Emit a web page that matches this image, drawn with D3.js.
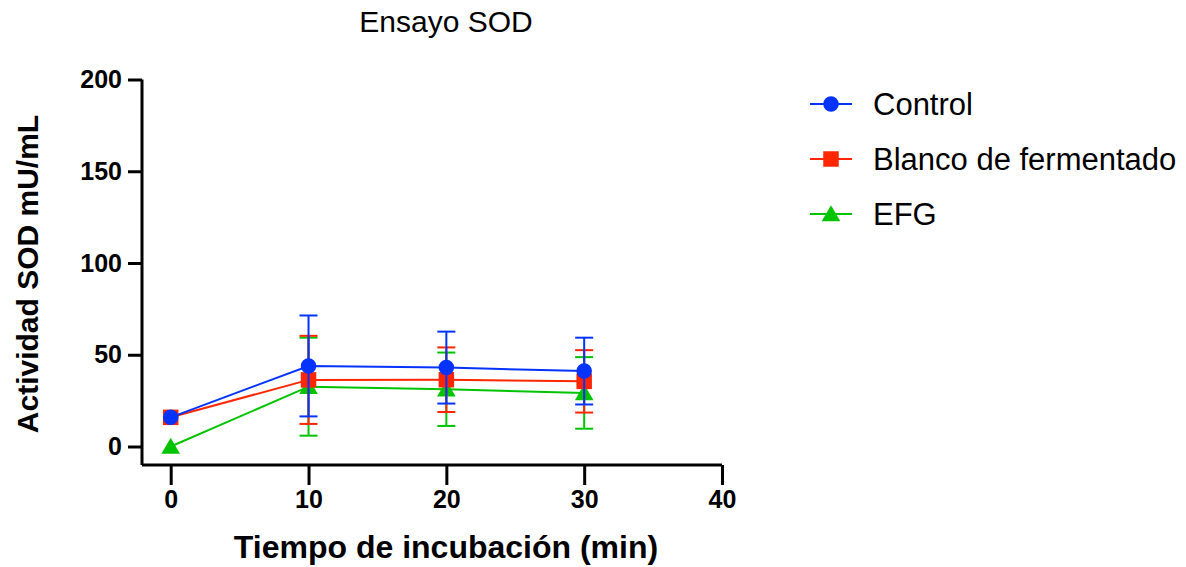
<!DOCTYPE html>
<html>
<head>
<meta charset="utf-8">
<script src="https://cdn.jsdelivr.net/npm/d3@7"></script>
<style>
  body { margin: 0; background: #fff; }
  text { font-family: "Liberation Sans", Arial, sans-serif; }
</style>
</head>
<body>
<div id="chart"></div>
<script>
// tiempos y valores
const times = [0, 10, 20, 30];
const seriesNames = ['Control', 'Blanco de fermentado', 'EFG'];
const controlMean = [15.9, 43.9, 43.0, 41.1];
const controlErr = [0, 27.5, 19.6, 18.2];
const blancoMean = [15.9, 36.3, 36.4, 35.5];
const blancoErr = [0, 24.0, 17.6, 17.0];
const efgMean = [0, 32.6, 31.2, 29.2];
const efgErr = [0, 26.7, 20.0, 19.5];
const xTicks = [0, 10, 20, 30, 40];
const yTicks = [0, 50, 100, 150, 200];

const width = 1186, height = 567;
const colors = ['#0433FF', '#FF2600', '#00C400'];
const shapes = [d3.symbolCircle, d3.symbolSquare, d3.symbolTriangle];
const sizes = [190, 240, 150];

const series = [
  { name: seriesNames[0], mean: controlMean, err: controlErr },
  { name: seriesNames[1], mean: blancoMean, err: blancoErr },
  { name: seriesNames[2], mean: efgMean, err: efgErr }
];

const svg = d3.select('#chart').append('svg')
  .attr('width', width).attr('height', height);

const x = d3.scaleLinear().domain([0, 40]).range([170.7, 722]);
const y = d3.scaleLinear().domain([0, 200]).range([446.5, 79.5]);

// ejes
const yAxis = svg.append('g')
  .attr('transform', 'translate(142,0)')
  .call(d3.axisLeft(y).tickValues(yTicks).tickSize(14).tickPadding(6));
yAxis.select('.domain').attr('d', `M0,${y(200)}V465`);
const xAxis = svg.append('g')
  .attr('transform', 'translate(0,465)')
  .call(d3.axisBottom(x).tickValues(xTicks).tickSize(20).tickPadding(5));
xAxis.select('.domain').attr('d', `M142,0H${x(40)}`);
[yAxis, xAxis].forEach(a => {
  a.selectAll('.domain, line').attr('stroke', '#000').attr('stroke-width', 3);
  a.selectAll('text').attr('font-size', 25).attr('font-weight', 'bold').attr('fill', '#000')
    .style('font-family', '"Liberation Sans", Arial, sans-serif');
});

// series (EFG abajo, Control encima)
series.map((s, i) => ({ s, i })).reverse().forEach(({ s, i }) => {
  const g = svg.append('g');
  const pts = times.map((t, j) => ({ t, m: s.mean[j], e: s.err[j] }));
  g.append('path')
    .datum(pts)
    .attr('fill', 'none')
    .attr('stroke', colors[i])
    .attr('stroke-width', 2)
    .attr('d', d3.line().x(d => x(d.t)).y(d => y(d.m)));
  const eb = g.selectAll('.eb').data(pts.filter(d => d.e > 0)).enter().append('g');
  eb.append('line')
    .attr('x1', d => x(d.t)).attr('x2', d => x(d.t))
    .attr('y1', d => y(d.m + d.e)).attr('y2', d => y(d.m - d.e))
    .attr('stroke', colors[i]).attr('stroke-width', 2);
  [1, -1].forEach(sgn => {
    eb.append('line')
      .attr('x1', d => x(d.t) - 9).attr('x2', d => x(d.t) + 9)
      .attr('y1', d => y(d.m + sgn * d.e)).attr('y2', d => y(d.m + sgn * d.e))
      .attr('stroke', colors[i]).attr('stroke-width', 2);
  });
  g.selectAll('.pt').data(pts).enter().append('path')
    .attr('transform', d => `translate(${x(d.t)},${y(d.m) + (i === 2 ? 2 : 0)})`)
    .attr('d', d3.symbol().type(shapes[i]).size(sizes[i]))
    .attr('fill', colors[i]);
});

// titulo y etiquetas
svg.append('text')
  .attr('x', 446).attr('y', 32)
  .attr('text-anchor', 'middle')
  .attr('font-size', 30)
  .text('Ensayo SOD');
svg.append('text')
  .attr('x', 446).attr('y', 558)
  .attr('text-anchor', 'middle')
  .attr('font-size', 32).attr('font-weight', 'bold')
  .text('Tiempo de incubación (min)');
svg.append('text')
  .attr('transform', 'translate(38,274) rotate(-90)')
  .attr('text-anchor', 'middle')
  .attr('font-size', 30).attr('font-weight', 'bold')
  .text('Actividad SOD mU/mL');

// leyenda
const legend = svg.append('g');
series.forEach((s, i) => {
  const ly = 104 + i * 55;
  legend.append('line')
    .attr('x1', 810).attr('x2', 852).attr('y1', ly).attr('y2', ly)
    .attr('stroke', colors[i]).attr('stroke-width', 2);
  legend.append('path')
    .attr('transform', `translate(831,${ly + (i === 2 ? 2 : 0)})`)
    .attr('d', d3.symbol().type(shapes[i]).size(sizes[i]))
    .attr('fill', colors[i]);
  legend.append('text')
    .attr('x', 873).attr('y', ly + 11)
    .attr('font-size', 31)
    .text(s.name);
});
</script>
</body>
</html>
